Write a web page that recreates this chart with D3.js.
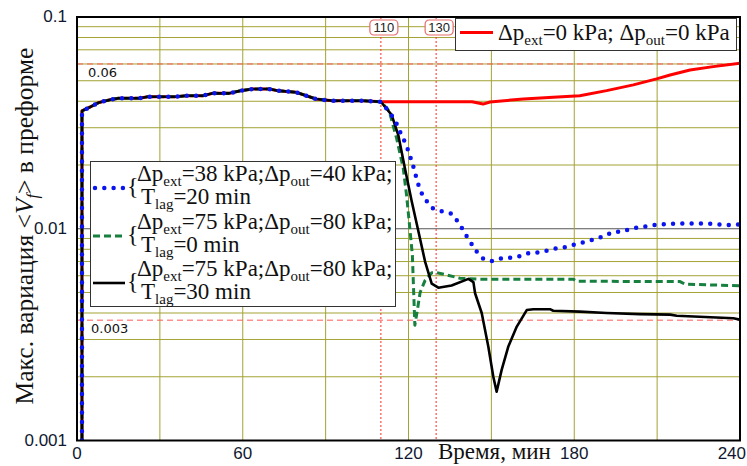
<!DOCTYPE html>
<html>
<head>
<meta charset="utf-8">
<script src="https://cdn.jsdelivr.net/npm/d3@7"></script>
<style>
  body { margin: 0; background: #fff; }
  svg { display: block; }
  .serif { font-family: "Liberation Serif", "Times New Roman", "DejaVu Serif", serif; }
  .sans { font-family: "Liberation Sans", Arial, sans-serif; }
</style>
</head>
<body>
<div id="container"></div>
<script>
/* CONSTANTS AND GLOBALS */
const width = 747;
const height = 466;
const margin = { top: 17, right: 7, bottom: 25.5, left: 77 };

/* DATA */
// all four runs are identical until 110 min
const startTime  = [1.8, 1.8, 5, 8, 11.7, 15, 22.6, 25.6, 35.8, 39.5, 45.5, 49.1, 55.1, 59.4, 63.6, 69.6, 72.6, 79.3, 86.5, 92.5, 103.4, 110];
const startValue = [0.001, 0.036, 0.0377, 0.0395, 0.0406, 0.0413, 0.0413, 0.042, 0.042, 0.0425, 0.0425, 0.0436, 0.0436, 0.0449, 0.0457, 0.0457, 0.0449, 0.0441, 0.041, 0.0402, 0.0402, 0.0398];

// dp_ext = 0, dp_out = 0
const redTime  = [143, 147, 149.5, 161.6, 172.4, 182, 191.7, 201.4, 209.8, 214.7, 221.9, 230.3, 240];
const redValue = [0.0398, 0.0388, 0.0397, 0.041, 0.0418, 0.0425, 0.0449, 0.0478, 0.051, 0.0532, 0.0562, 0.0583, 0.0605];

// 38 / 40 kPa, lag 20 min
const blueTime  = [112, 114.5, 116.3, 117.5, 119.1, 120.3, 121.4, 122.4, 123.2, 124.4, 126.2, 128.8, 132, 135.5, 138.4, 140.2, 142.3, 144.3, 146.9, 150.1, 153.7, 156.7, 160.4, 163.6, 167, 170.2, 173.6, 177, 180.4, 183.6, 187.2, 190.5, 193.9, 197.2, 200.5, 203.9, 207.3, 210.7, 214, 217.4, 227.4, 230.7, 237.6, 240];
const blueValue = [0.037, 0.0335, 0.0303, 0.0275, 0.0251, 0.0225, 0.0204, 0.0183, 0.0167, 0.015, 0.0137, 0.0125, 0.0121, 0.0118, 0.0106, 0.0096, 0.0087, 0.0079, 0.00725, 0.00704, 0.00725, 0.0073, 0.00743, 0.00768, 0.00773, 0.00788, 0.00808, 0.0082, 0.00844, 0.00865, 0.0089, 0.0092, 0.00965, 0.0097, 0.01, 0.0102, 0.0103, 0.0105, 0.0105, 0.0106, 0.0106, 0.0105, 0.0104, 0.0105];

// 75 / 80 kPa, lag 0 min
const greenTime  = [113, 115.7, 118.1, 119.3, 120.5, 121.4, 122.3, 123.3, 124.2, 126, 128.4, 130.2, 133.8, 138.6, 145.9, 179.7, 180.9, 218.3, 220.1, 240];
const greenValue = [0.036, 0.0267, 0.0193, 0.0144, 0.01, 0.0075, 0.0035, 0.0042, 0.005, 0.0057, 0.0062, 0.0062, 0.00605, 0.00584, 0.00578, 0.00578, 0.00565, 0.00563, 0.00547, 0.00538];

// 75 / 80 kPa, lag 30 min
const blackTime  = [113.9, 116.3, 118.7, 121.2, 123.6, 126, 128.4, 130.8, 135.6, 141.7, 143.5, 144.1, 146.5, 148.9, 150.7, 151.9, 153.7, 156.1, 159.2, 162.8, 165.2, 171.2, 172.4, 182, 191.7, 203.8, 214.7, 217.1, 237.6, 240];
const blackValue = [0.0345, 0.0277, 0.0193, 0.0134, 0.0097, 0.007, 0.0055, 0.00527, 0.0054, 0.0058, 0.0056, 0.00496, 0.004, 0.00277, 0.002, 0.0017, 0.00215, 0.00277, 0.00345, 0.00413, 0.00417, 0.00417, 0.0041, 0.00406, 0.004, 0.00395, 0.00393, 0.00388, 0.00378, 0.00372];

const extPressure = [38, 75, 75];
const outPressure = [40, 80, 80];
const lagTime = [20, 0, 30];

const refLevels = [0.06, 0.0037];
const refLabels = ["0.06", "0.003"];
const refTimes = [110, 130];

const xTicks = [0, 60, 120, 180, 240];
const yTicks = [0.1, 0.01, 0.001];
const yTickLabels = ["0.1", "0.01", "0.001"];

/* SCALES */
const xScale = d3.scaleLinear()
  .domain([0, 240])
  .range([margin.left, width - margin.right]);

const yScale = d3.scaleLog()
  .domain([0.001, 0.1])
  .range([height - margin.bottom, margin.top]);

const zip = (t, v) => t.map((d, i) => [d, v[i]]);
const start = zip(startTime, startValue);
const series = [
  { key: "red",   pts: start.concat(zip(redTime, redValue)) },
  { key: "green", pts: start.concat(zip(greenTime, greenValue)) },
  { key: "black", pts: start.concat(zip(blackTime, blackValue)) },
  { key: "blue",  pts: start.concat(zip(blueTime, blueValue)) }
];

const styles = {
  red:   { stroke: "#ff0000", width: 3, dash: null, cap: "butt" },
  green: { stroke: "#17803f", width: 3, dash: "7,4", cap: "butt" },
  black: { stroke: "#000000", width: 2.6, dash: null, cap: "butt" },
  blue:  { stroke: "#0a14f0", width: 4.5, dash: "0,9.3", cap: "round" }
};

/* HTML ELEMENTS */
const svg = d3.select("#container")
  .append("svg")
  .attr("width", width)
  .attr("height", height);

svg.append("defs").append("clipPath").attr("id", "plot")
  .append("rect")
  .attr("x", margin.left).attr("y", margin.top)
  .attr("width", width - margin.left - margin.right)
  .attr("height", height - margin.top - margin.bottom);

// grid
const minor = [];
[0.001, 0.01].forEach(dec => d3.range(2, 10).forEach(k => minor.push(dec * k)));

svg.append("g")
  .selectAll("line")
  .data(minor)
  .join("line")
  .attr("x1", margin.left).attr("x2", width - margin.right)
  .attr("y1", d => yScale(d)).attr("y2", d => yScale(d))
  .attr("stroke", "#a3a335")
  .attr("stroke-width", 1);

svg.append("line")
  .attr("x1", margin.left).attr("x2", width - margin.right)
  .attr("y1", yScale(0.01)).attr("y2", yScale(0.01))
  .attr("stroke", "#555")
  .attr("stroke-width", 1);

svg.append("g")
  .selectAll("line")
  .data(d3.range(30, 240, 30))
  .join("line")
  .attr("x1", d => xScale(d)).attr("x2", d => xScale(d))
  .attr("y1", margin.top).attr("y2", height - margin.bottom)
  .attr("stroke", "#a3a335")
  .attr("stroke-width", 1);

// reference lines
svg.append("g")
  .selectAll("line")
  .data(refLevels)
  .join("line")
  .attr("x1", margin.left).attr("x2", width - margin.right)
  .attr("y1", d => yScale(d)).attr("y2", d => yScale(d))
  .attr("stroke", "#ff5a5a")
  .attr("stroke-width", 1)
  .attr("stroke-dasharray", "6,4");

svg.append("g")
  .selectAll("line")
  .data(refTimes)
  .join("line")
  .attr("x1", d => xScale(d)).attr("x2", d => xScale(d))
  .attr("y1", margin.top).attr("y2", height - margin.bottom)
  .attr("stroke", "#ff2a2a")
  .attr("stroke-width", 1)
  .attr("stroke-dasharray", "2,2");

svg.append("g")
  .selectAll("text")
  .data(refLevels)
  .join("text")
  .attr("x", (d, i) => i === 0 ? 88 : 91)
  .attr("y", d => yScale(d) + 13)
  .style("font-family", "'DejaVu Sans', sans-serif")
  .attr("font-size", 13)
  .attr("fill", "#111")
  .text((d, i) => refLabels[i]);

// curves
const line = d3.line()
  .x(d => xScale(d[0]))
  .y(d => yScale(d[1]));

svg.append("g")
  .attr("clip-path", "url(#plot)")
  .selectAll("path")
  .data(series)
  .join("path")
  .attr("d", d => line(d.pts))
  .attr("fill", "none")
  .attr("stroke", d => styles[d.key].stroke)
  .attr("stroke-width", d => styles[d.key].width)
  .attr("stroke-dasharray", d => styles[d.key].dash)
  .attr("stroke-linecap", d => styles[d.key].cap)
  .attr("stroke-linejoin", "round");

// frame
svg.append("rect")
  .attr("x", margin.left).attr("y", margin.top)
  .attr("width", width - margin.left - margin.right)
  .attr("height", height - margin.top - margin.bottom)
  .attr("fill", "none")
  .attr("stroke", "#000")
  .attr("stroke-width", 2);

// time markers
const marks = svg.append("g")
  .selectAll("g")
  .data(refTimes)
  .join("g")
  .attr("transform", d => `translate(${xScale(d) + 3},27.5)`);
marks.append("rect")
  .attr("x", -14).attr("y", -7.5)
  .attr("width", 28).attr("height", 15)
  .attr("rx", 4)
  .attr("fill", "#fff")
  .attr("stroke", "#e86a6a")
  .attr("stroke-width", 1.2);
marks.append("text")
  .attr("class", "sans")
  .attr("text-anchor", "middle")
  .attr("dy", "0.36em")
  .attr("font-size", 13)
  .attr("fill", "#222")
  .text(d => d);

// tick labels
svg.append("g")
  .selectAll("text")
  .data(xTicks)
  .join("text")
  .attr("class", "sans")
  .attr("x", d => d === 240 ? width - 1 : xScale(d))
  .attr("y", 459)
  .attr("text-anchor", d => d === 240 ? "end" : "middle")
  .attr("font-size", 17)
  .attr("fill", "#0f1830")
  .text(d => d);

svg.append("g")
  .selectAll("text")
  .data(yTicks)
  .join("text")
  .attr("class", "sans")
  .attr("x", 67)
  .attr("y", d => yScale(d))
  .attr("dy", "0.3em")
  .attr("text-anchor", "end")
  .attr("font-size", 17)
  .attr("fill", "#0f1830")
  .text((d, i) => yTickLabels[i]);

// rich text helper: parts = [text, kind]
function rich(sel, parts, size, subSize, drop) {
  let shift = 0;
  parts.forEach(([txt, kind]) => {
    const sub = kind.includes("sub");
    const target = sub ? drop : 0;
    sel.append("tspan")
      .attr("dy", target - shift)
      .attr("font-size", sub ? subSize : size)
      .attr("font-style", kind.includes("it") ? "italic" : null)
      .text(txt);
    shift = target;
  });
}

// axis titles
const xTitle = svg.append("text")
  .attr("class", "serif")
  .attr("x", 438).attr("y", 459)
  .attr("font-size", 23)
  .attr("fill", "#111");
rich(xTitle, [["Время, мин", ""]], 23, 15, 5);

const yTitle = svg.append("text")
  .attr("class", "serif")
  .attr("transform", "translate(33,226) rotate(-90)")
  .attr("text-anchor", "middle")
  .attr("font-size", 25.5)
  .attr("fill", "#111");
rich(yTitle, [["Макс. вариация <", ""], ["V", "it"], ["f", "itsub"], ["> в преформе", ""]], 25.5, 16.5, 5);

// top legend
const leg1 = svg.append("g");
leg1.append("rect")
  .attr("x", 455.5).attr("y", 18.5)
  .attr("width", 281).attr("height", 32)
  .attr("fill", "#fff")
  .attr("stroke", "#333")
  .attr("stroke-width", 1);
leg1.append("line")
  .attr("x1", 460).attr("x2", 493)
  .attr("y1", 32.5).attr("y2", 32.5)
  .attr("stroke", styles.red.stroke)
  .attr("stroke-width", 3);
const leg1Text = leg1.append("text")
  .attr("class", "serif")
  .attr("x", 498).attr("y", 40)
  .attr("font-size", 23)
  .attr("fill", "#111");
rich(leg1Text, [["Δp", ""], ["ext", "sub"], ["=0 kPa; Δp", ""], ["out", "sub"], ["=0 kPa", ""]], 23, 15, 5);

// lower legend
const leg2 = svg.append("g");
leg2.append("rect")
  .attr("x", 90.5).attr("y", 161.5)
  .attr("width", 305).attr("height", 145)
  .attr("fill", "#fff")
  .attr("stroke", "#333")
  .attr("stroke-width", 1);

const legKeys = ["blue", "green", "black"];
const legY = [188, 236, 283];
legKeys.forEach((k, i) => {
  const g = leg2.append("g").attr("transform", `translate(0,${legY[i]})`);
  g.append("line")
    .attr("x1", k === "blue" ? 95 : 93).attr("x2", 125)
    .attr("y1", 0).attr("y2", 0)
    .attr("stroke", styles[k].stroke)
    .attr("stroke-width", styles[k].width)
    .attr("stroke-dasharray", styles[k].dash)
    .attr("stroke-linecap", styles[k].cap);
  g.append("text")
    .attr("class", "serif")
    .attr("x", 127).attr("y", 6)
    .attr("font-size", 24)
    .attr("fill", "#111")
    .text("{");
  const t1 = g.append("text")
    .attr("class", "serif")
    .attr("x", 137).attr("y", -7.5)
    .attr("font-size", 23)
    .attr("fill", "#111");
  rich(t1, [["Δp", ""], ["ext", "sub"], [`=${extPressure[i]} kPa;Δp`, ""], ["out", "sub"], [`=${outPressure[i]} kPa;`, ""]], 23, 15, 5);
  const t2 = g.append("text")
    .attr("class", "serif")
    .attr("x", 141).attr("y", 16)
    .attr("font-size", 23)
    .attr("fill", "#111");
  rich(t2, [["T", ""], ["lag", "sub"], [`=${lagTime[i]} min`, ""]], 23, 15, 5);
});
</script>
</body>
</html>
